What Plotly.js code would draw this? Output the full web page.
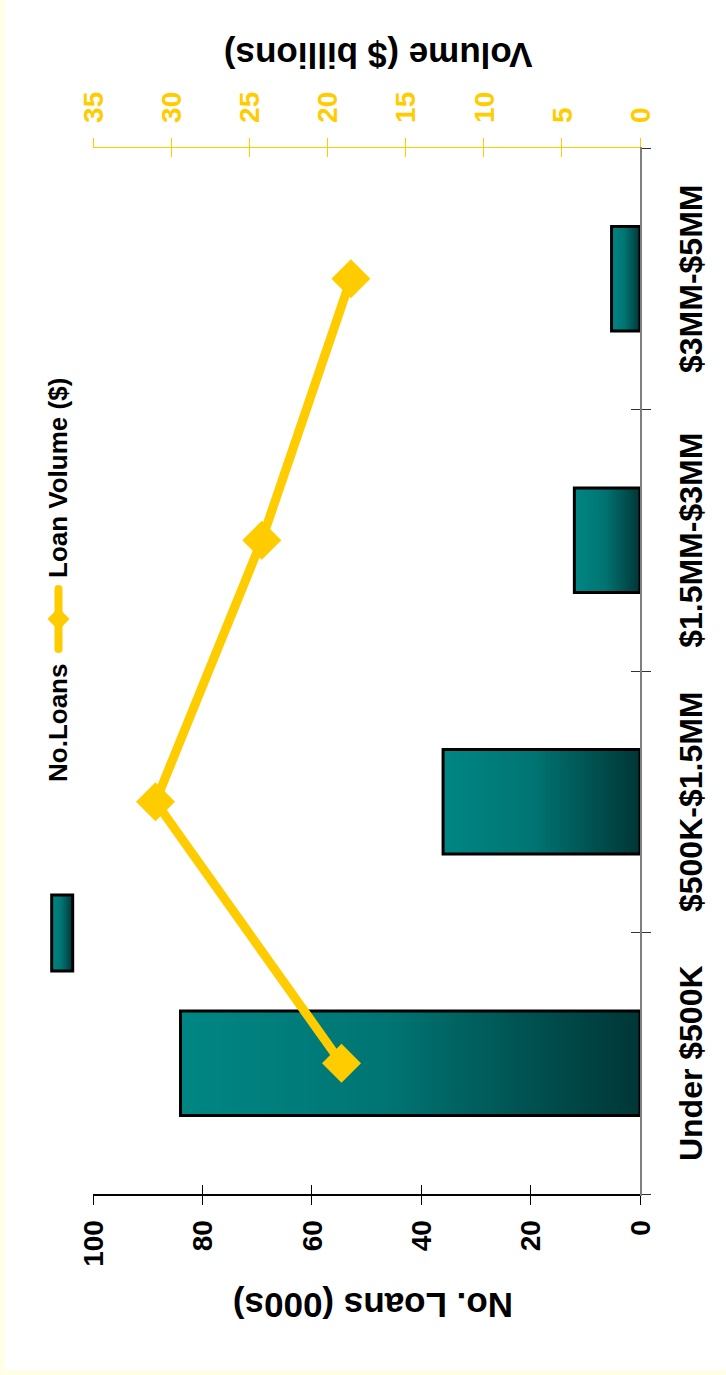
<!DOCTYPE html>
<html>
<head>
<meta charset="utf-8">
<script src="https://cdn.plot.ly/plotly-3.0.1.min.js"></script>
<style>
  html, body { margin: 0; padding: 0; width: 726px; height: 1375px; overflow: hidden; background: #FFFFE5; }
  #chart {
    position: absolute; left: 0; top: 0; width: 1370px; height: 721px;
    transform-origin: 0 0;
    transform: translate(5px, 1370px) rotate(-90deg);
    background: #ffffff;
  }
</style>
</head>
<body>
<div id="chart"></div>
<script>
// ---- data ----
var categories = ['Under $500K', '$500K-$1.5MM', '$1.5MM-$3MM', '$3MM-$5MM'];
var loanCounts = [84, 36, 12, 5.2];          // No. Loans (000s)
var loanVolume = [19.1, 31.0, 24.2, 18.5];   // Volume ($ billions)
var seriesNames = ['No.Loans', 'Loan Volume ($)'];
var leftTitle = 'No. Loans (000s)';
var rightTitle = 'Volume ($ billions)';

// ---- style ----
var FONT = 'Liberation Sans, Arial, sans-serif';
var GOLD = '#FFCC00';
var TEAL = '#007070';

var data = [
  {
    type: 'bar', name: seriesNames[0], x: categories, y: loanCounts,
    xaxis: 'x', yaxis: 'y',
    marker: { color: TEAL, line: { color: '#000000', width: 3 } },
    showlegend: false
  },
  {
    type: 'scatter', mode: 'lines+markers', name: seriesNames[1],
    x: categories, y: loanVolume, xaxis: 'x', yaxis: 'y2',
    line: { color: GOLD, width: 9 },
    marker: { symbol: 'diamond', size: 30, color: GOLD },
    showlegend: false
  },
  // empty helper traces so the tick-only overlay axes (crossing tick marks) get drawn
  { type: 'scatter', mode: 'markers', x: [], y: [], xaxis: 'x', yaxis: 'y3', showlegend: false, hoverinfo: 'skip' },
  { type: 'scatter', mode: 'markers', x: [], y: [], xaxis: 'x', yaxis: 'y4', showlegend: false, hoverinfo: 'skip' },
  { type: 'scatter', mode: 'markers', x: [], y: [], xaxis: 'x2', yaxis: 'y', showlegend: false, hoverinfo: 'skip' }
];

var W = 1370, H = 721;
var M = { l: 176, r: 148, t: 88, b: 86 };
var PW = W - M.l - M.r, PH = H - M.t - M.b;
function px(xd) { return (xd - M.l) / PW; }
function py(yd) { return (H - M.b - yd) / PH; }

var legY = py(53.5);
var dX = 11.5 / PW, dY = 11 / PH;
var dcx = px(751);
var titleFont = { family: FONT, size: 35, color: '#000000', weight: 'bold' };
var legFont = { family: FONT, size: 26, color: '#000000', weight: 'bold' };

var layout = {
  width: W, height: H,
  margin: M,
  paper_bgcolor: '#ffffff', plot_bgcolor: '#ffffff',
  font: { family: FONT, color: '#000000', weight: 'bold' },
  bargap: 0.6,
  showlegend: false,
  xaxis: {
    type: 'category', range: [-0.5, 3.5],
    showline: true, linecolor: '#7f7f7f', linewidth: 1.5,
    ticks: 'outside', tickson: 'boundaries', ticklen: 9, tickcolor: '#333333', tickwidth: 1,
    ticklabelstandoff: 22,
    tickfont: { family: FONT, size: 32, color: '#000000', weight: 'bold' },
    showgrid: false, zeroline: false, automargin: false
  },
  xaxis2: {
    overlaying: 'x', anchor: 'y', side: 'bottom', range: [-0.5, 3.5],
    tickmode: 'array', tickvals: [-0.5, 0.5, 1.5, 2.5, 3.5],
    ticks: 'inside', ticklen: 9, tickcolor: '#333333', tickwidth: 1,
    showticklabels: false, showline: false, showgrid: false, zeroline: false
  },
  yaxis: {
    range: [0, 100], dtick: 20, side: 'left',
    showline: true, linecolor: '#000000', linewidth: 1.5,
    ticks: 'outside', ticklen: 9, tickcolor: '#000000', tickwidth: 1,
    ticklabelstandoff: 10,
    tickfont: { family: FONT, size: 28, color: '#000000', weight: 'bold' },
    showgrid: false, zeroline: false, automargin: false
  },
  yaxis3: {
    overlaying: 'y', anchor: 'x', side: 'left', range: [0, 100], dtick: 20,
    ticks: 'inside', ticklen: 9, tickcolor: '#000000', tickwidth: 1,
    showticklabels: false, showline: false, showgrid: false, zeroline: false
  },
  yaxis2: {
    overlaying: 'y', anchor: 'x', side: 'right', range: [0, 35], dtick: 5,
    showline: true, linecolor: GOLD, linewidth: 1.5,
    ticks: 'outside', ticklen: 9, tickcolor: GOLD, tickwidth: 1,
    ticklabelstandoff: 9,
    tickfont: { family: FONT, size: 28, color: GOLD, weight: 'bold' },
    showgrid: false, zeroline: false, automargin: false
  },
  yaxis4: {
    overlaying: 'y', anchor: 'x', side: 'right', range: [0, 35], dtick: 5,
    ticks: 'inside', ticklen: 9, tickcolor: GOLD, tickwidth: 1,
    showticklabels: false, showline: false, showgrid: false, zeroline: false
  },
  shapes: [
    { type: 'rect', xref: 'paper', yref: 'paper',
      x0: px(399), x1: px(475), y0: py(67.7), y1: py(46.7),
      fillcolor: TEAL, line: { color: '#000000', width: 3 } },
    { type: 'line', xref: 'paper', yref: 'paper',
      x0: px(721), x1: px(781), y0: legY, y1: legY,
      line: { color: GOLD, width: 8 } },
    { type: 'path', xref: 'paper', yref: 'paper',
      path: 'M ' + (dcx - dX) + ',' + legY + ' L ' + dcx + ',' + (legY + dY) +
            ' L ' + (dcx + dX) + ',' + legY + ' L ' + dcx + ',' + (legY - dY) + ' Z',
      fillcolor: GOLD, line: { width: 0 } }
  ],
  annotations: [
    { text: seriesNames[0], xref: 'paper', yref: 'paper', x: px(586), y: legY,
      xanchor: 'left', yanchor: 'middle', showarrow: false, font: legFont },
    { text: seriesNames[1], xref: 'paper', yref: 'paper', x: px(790), y: legY,
      xanchor: 'left', yanchor: 'middle', showarrow: false, font: legFont },
    // axis titles
    { text: leftTitle, xref: 'paper', yref: 'paper', x: px(64.5), y: py(368.5),
      xanchor: 'center', yanchor: 'middle', textangle: -90, showarrow: false, font: titleFont },
    { text: rightTitle, xref: 'paper', yref: 'paper', x: px(1314.5), y: py(373),
      xanchor: 'center', yanchor: 'middle', textangle: -90, showarrow: false, font: titleFont }
  ]
};

var gd = document.getElementById('chart');
Plotly.newPlot(gd, data, layout, { displayModeBar: false, staticPlot: true }).then(function () {
  var ns = 'http://www.w3.org/2000/svg';
  var svg = gd.querySelector('svg.main-svg');
  var defs = svg.querySelector('defs');
  if (!defs) { defs = document.createElementNS(ns, 'defs'); svg.insertBefore(defs, svg.firstChild); }
  var lg = document.createElementNS(ns, 'linearGradient');
  lg.setAttribute('id', 'tealGrad');
  lg.setAttribute('x1', '0'); lg.setAttribute('y1', '0');
  lg.setAttribute('x2', '0'); lg.setAttribute('y2', '1');
  [['0', '#008684'], ['0.45', '#007573'], ['1', '#003636']].forEach(function (s) {
    var st = document.createElementNS(ns, 'stop');
    st.setAttribute('offset', s[0]); st.setAttribute('stop-color', s[1]);
    lg.appendChild(st);
  });
  defs.appendChild(lg);
  gd.querySelectorAll('g.trace.bars path').forEach(function (p) { p.style.fill = 'url(#tealGrad)'; });
  var sh = gd.querySelectorAll('.shapelayer path');
  if (sh[0]) sh[0].style.fill = 'url(#tealGrad)';
  if (sh[1]) sh[1].style.strokeLinecap = 'round';
});
</script>
</body>
</html>
